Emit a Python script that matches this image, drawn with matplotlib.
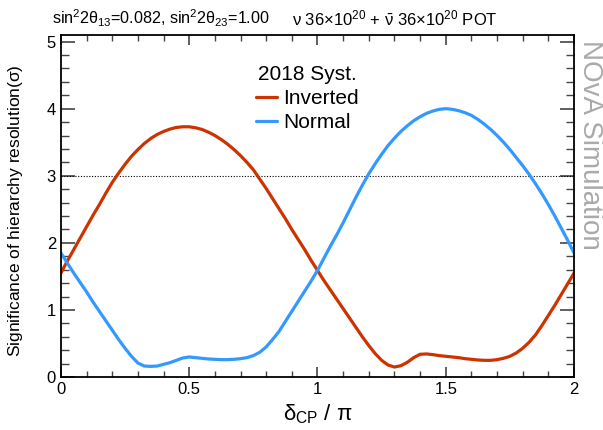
import numpy as np
import matplotlib
matplotlib.use("Agg")
import matplotlib.pyplot as plt
from matplotlib.ticker import MultipleLocator

plt.rcParams['font.family'] = ['Liberation Sans', 'DejaVu Sans']
plt.rcParams['mathtext.fontset'] = 'custom'
plt.rcParams['mathtext.rm'] = 'Liberation Sans'
plt.rcParams['mathtext.it'] = 'Liberation Sans'
plt.rcParams['mathtext.bf'] = 'Liberation Sans:bold'

# delta_CP / pi, sampled every 0.025
dcp = np.linspace(0, 2, 81)

inverted = [1.55, 1.73, 1.90, 2.07, 2.24, 2.41, 2.57, 2.74, 2.90, 3.04,
            3.17, 3.29, 3.39, 3.48, 3.555, 3.615, 3.66, 3.695, 3.72, 3.73,
            3.73, 3.715, 3.69, 3.65, 3.60, 3.54, 3.47, 3.39, 3.30, 3.20,
            3.09, 2.95, 2.81, 2.66, 2.51, 2.36, 2.20, 2.05, 1.90, 1.74,
            1.59, 1.44, 1.30, 1.16, 1.02, 0.88, 0.74, 0.60, 0.47, 0.35,
            0.25, 0.18, 0.15, 0.17, 0.22, 0.29, 0.34, 0.345, 0.335, 0.32,
            0.31, 0.30, 0.29, 0.275, 0.265, 0.255, 0.25, 0.25, 0.26, 0.28,
            0.31, 0.36, 0.43, 0.52, 0.63, 0.77, 0.92, 1.07, 1.23, 1.39,
            1.55]

normal = [1.85, 1.70, 1.55, 1.41, 1.27, 1.12, 0.98, 0.84, 0.70, 0.56,
          0.43, 0.31, 0.21, 0.165, 0.16, 0.165, 0.19, 0.215, 0.25, 0.285,
          0.30, 0.29, 0.28, 0.27, 0.265, 0.26, 0.26, 0.265, 0.275, 0.29,
          0.32, 0.37, 0.45, 0.56, 0.68, 0.83, 0.98, 1.13, 1.28, 1.43,
          1.59, 1.77, 1.95, 2.12, 2.30, 2.49, 2.68, 2.86, 3.03, 3.18,
          3.32, 3.45, 3.56, 3.66, 3.745, 3.82, 3.88, 3.93, 3.965, 3.99,
          4.00, 3.99, 3.97, 3.94, 3.90, 3.84, 3.77, 3.69, 3.60, 3.50,
          3.39, 3.27, 3.15, 3.02, 2.88, 2.73, 2.57, 2.40, 2.22, 2.04,
          1.85]

fig = plt.figure(figsize=(6.03, 4.30), dpi=100)
ax = fig.add_axes([0.101, 0.123, 0.851, 0.796])

ax.axhline(3, color='black', lw=0.8, ls=(0, (1, 1.5)))
ax.plot(dcp, inverted, color='#cc3300', lw=2.3, label='Inverted',
        solid_joinstyle='round', solid_capstyle='round')
ax.plot(dcp, normal, color='#3399ff', lw=2.3, label='Normal',
        solid_joinstyle='round', solid_capstyle='round')

ax.set_xlim(0, 2)
ax.set_ylim(0, 5.1)
ax.xaxis.set_minor_locator(MultipleLocator(0.1))
ax.yaxis.set_major_locator(MultipleLocator(1))
ax.yaxis.set_minor_locator(MultipleLocator(0.2))
ax.set_xticks([0, 0.5, 1, 1.5, 2])
ax.set_xticklabels(['0', '0.5', '1', '1.5', '2'])
ax.tick_params(axis='both', which='both', direction='in', top=True, right=True,
               labelsize=12, color='#444444')
ax.tick_params(axis='x', which='major', length=7, width=1.2)
ax.tick_params(axis='x', which='minor', length=4, width=1.0)
ax.tick_params(axis='y', which='major', length=10, width=1.2)
ax.tick_params(axis='y', which='minor', length=5.5, width=1.0)
for s in ax.spines.values():
    s.set_linewidth(1.3)

ax.set_xlabel(r'$\delta_{\rm CP}$ / $\pi$', fontsize=16, labelpad=4)
ax.set_ylabel(r'Significance of hierarchy resolution($\sigma$)', fontsize=12.5)
ax.yaxis.set_label_coords(-0.07, 0.485)

leg = ax.legend(title='2018 Syst.', loc='upper center', bbox_to_anchor=(0.48, 0.955),
                frameon=False, fontsize=15, title_fontsize=15, handlelength=1.0,
                handletextpad=0.3, labelspacing=0.25, borderpad=0.2)

# header texts, fitted to the widths seen in the reference (px)
t1 = fig.text(52 / 603, 0.957, r'sin$^2$2$\theta_{13}$=0.082, sin$^2$2$\theta_{23}$=1.00',
              fontsize=12, ha='left', va='center')
t2 = fig.text(498 / 603, 0.957,
              r'$\nu$ 36$\times$10$^{20}$ + $\bar{\nu}$ 36$\times$10$^{20}$ POT',
              fontsize=12, ha='right', va='center')
fig.canvas.draw()
r = fig.canvas.get_renderer()
for t, w in [(t1, 218), (t2, 205)]:
    cur = t.get_window_extent(r).width
    t.set_fontsize(12 * w / cur)

fig.text(0.978, 0.663, 'NOvA Simulation', rotation=270, fontsize=20,
         color='#aaaaaa', ha='center', va='center')

fig.savefig('out.png', dpi=100)
